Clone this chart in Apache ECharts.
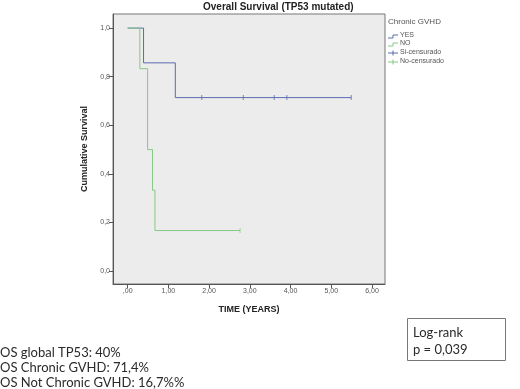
<!DOCTYPE html>
<html><head><meta charset="utf-8">
<script src="https://cdn.jsdelivr.net/npm/echarts@6/dist/echarts.min.js"></script>
<style>html,body{margin:0;padding:0;background:#fff}#c{width:520px;height:389px}</style>
</head><body><div id="c"></div>
<script>
// Data
const titleText = 'Overall Survival (TP53 mutated)';
const xTicks = [0, 1, 2, 3, 4, 5, 6];
const yTicks = [0, 0.2, 0.4, 0.6, 0.8, 1.0];
// Kaplan-Meier steps [time, survival after event]
const yesSteps = [[0, 1.0], [0.39, 0.857], [1.17, 0.714], [5.49, 0.714]];
const noSteps = [[0, 1.0], [0.30, 0.833], [0.49, 0.5], [0.61, 0.333], [0.67, 0.167], [2.76, 0.167]];
// censored observations
const yesCensored = [[1.82, 0.714], [2.84, 0.714], [3.60, 0.714], [3.91, 0.714], [5.49, 0.714]];
const noCensored = [[2.76, 0.167]];
const legendTitle = 'Chronic GVHD';
const legendItems = ['YES', 'NO', 'Si-censurado', 'No-censurado'];
const noteLines = ['OS global TP53: 40%', 'OS Chronic GVHD: 71,4%', 'OS Not Chronic GVHD: 16,7%%'];
const logRankLines = ['Log-rank', 'p = 0,039'];

const BLUE = '#5a6cae', GREEN = '#86c986';
const chart = echarts.init(document.getElementById('c'), null, {renderer: 'canvas'});
const F = 'Liberation Sans, Arial, sans-serif';
const fx = v => v === 0 ? ',00' : v.toFixed(2).replace('.', ',');
const fy = v => v.toFixed(1).replace('.', ',');

const legendY = [36, 44, 53, 62];
const legendG = [
  {type: 'text', left: 388, top: 18, style: {text: legendTitle, font: '8px ' + F, fill: '#555'}},
  {type: 'polyline', shape: {points: [[388, legendY[0] + 2], [393, legendY[0] + 2], [393, legendY[0] - 1], [398, legendY[0] - 1]]}, style: {stroke: BLUE, lineWidth: 1, fill: null}},
  {type: 'polyline', shape: {points: [[388, legendY[1] + 2], [393, legendY[1] + 2], [393, legendY[1] - 1], [398, legendY[1] - 1]]}, style: {stroke: GREEN, lineWidth: 1, fill: null}},
  {type: 'line', shape: {x1: 388, y1: legendY[2], x2: 398, y2: legendY[2]}, style: {stroke: BLUE, lineWidth: 1}},
  {type: 'line', shape: {x1: 393, y1: legendY[2] - 2.5, x2: 393, y2: legendY[2] + 2.5}, style: {stroke: BLUE, lineWidth: 1}},
  {type: 'line', shape: {x1: 388, y1: legendY[3], x2: 398, y2: legendY[3]}, style: {stroke: GREEN, lineWidth: 1}},
  {type: 'line', shape: {x1: 393, y1: legendY[3] - 2.5, x2: 393, y2: legendY[3] + 2.5}, style: {stroke: GREEN, lineWidth: 1}}
];
legendItems.forEach((t, i) => legendG.push({type: 'text', left: 400, top: legendY[i] - 4, style: {text: t, font: '7px ' + F, fill: '#555'}}));

const notesG = noteLines.map((t, i) => ({type: 'text', left: 0, top: 346 + i * 15, style: {text: t, font: '13px Lato, sans-serif', fill: '#2a2a2a'}}));
const boxG = [
  {type: 'rect', shape: {x: 407.5, y: 318.5, width: 98, height: 42}, style: {fill: '#fff', stroke: '#777', lineWidth: 1}},
  {type: 'text', left: 413, top: 326, style: {text: logRankLines[0], font: '13px Lato, sans-serif', fill: '#2a2a2a'}},
  {type: 'text', left: 413, top: 343, style: {text: logRankLines[1], font: '13px Lato, sans-serif', fill: '#2a2a2a'}}
];

chart.setOption({
  animation: false,
  backgroundColor: '#fff',
  grid: {left: 113, top: 14, width: 272, height: 270, show: true, backgroundColor: '#ececec', borderColor: '#777', borderWidth: 1},
  xAxis: {
    type: 'value', min: -0.36, max: 6.32,
    name: 'TIME (YEARS)', nameLocation: 'middle', nameGap: 21,
    nameTextStyle: {fontFamily: F, fontSize: 9, fontWeight: 'bold', color: '#222'},
    axisLine: {show: true, onZero: false, lineStyle: {color: '#555', width: 1}},
    axisTick: {show: true, length: 4, customValues: xTicks, lineStyle: {color: '#555'}},
    axisLabel: {customValues: xTicks, formatter: fx, fontFamily: F, fontSize: 7, color: '#555', margin: 4},
    splitLine: {show: false}
  },
  yAxis: {
    type: 'value', min: -0.053, max: 1.058,
    name: 'Cumulative Survival', nameLocation: 'middle', nameGap: 21, nameRotate: 90,
    nameTextStyle: {fontFamily: F, fontSize: 9, fontWeight: 'bold', color: '#222'},
    axisLine: {show: true, onZero: false, lineStyle: {color: '#555', width: 1}},
    axisTick: {show: true, length: 4, customValues: yTicks, lineStyle: {color: '#555'}},
    axisLabel: {customValues: yTicks, formatter: fy, fontFamily: F, fontSize: 7, color: '#555', margin: 3},
    splitLine: {show: false}
  },
  series: [
    {type: 'line', name: 'YES', step: 'end', data: yesSteps, showSymbol: false, lineStyle: {color: BLUE, width: 1}, z: 2},
    {type: 'line', name: 'NO', step: 'end', data: noSteps, showSymbol: false, lineStyle: {color: GREEN, width: 1}, z: 3},
    {type: 'scatter', name: 'Si-censurado', data: yesCensored, symbol: 'rect', symbolSize: [1, 5], itemStyle: {color: BLUE}, z: 4},
    {type: 'scatter', name: 'No-censurado', data: noCensored, symbol: 'rect', symbolSize: [1, 5], itemStyle: {color: GREEN}, z: 4}
  ],
  graphic: [
    {type: 'text', left: 203, top: 2, style: {text: titleText, font: 'bold 10px ' + F, fill: '#222'}}
  ].concat(legendG, notesG, boxG)
});
</script></body></html>
